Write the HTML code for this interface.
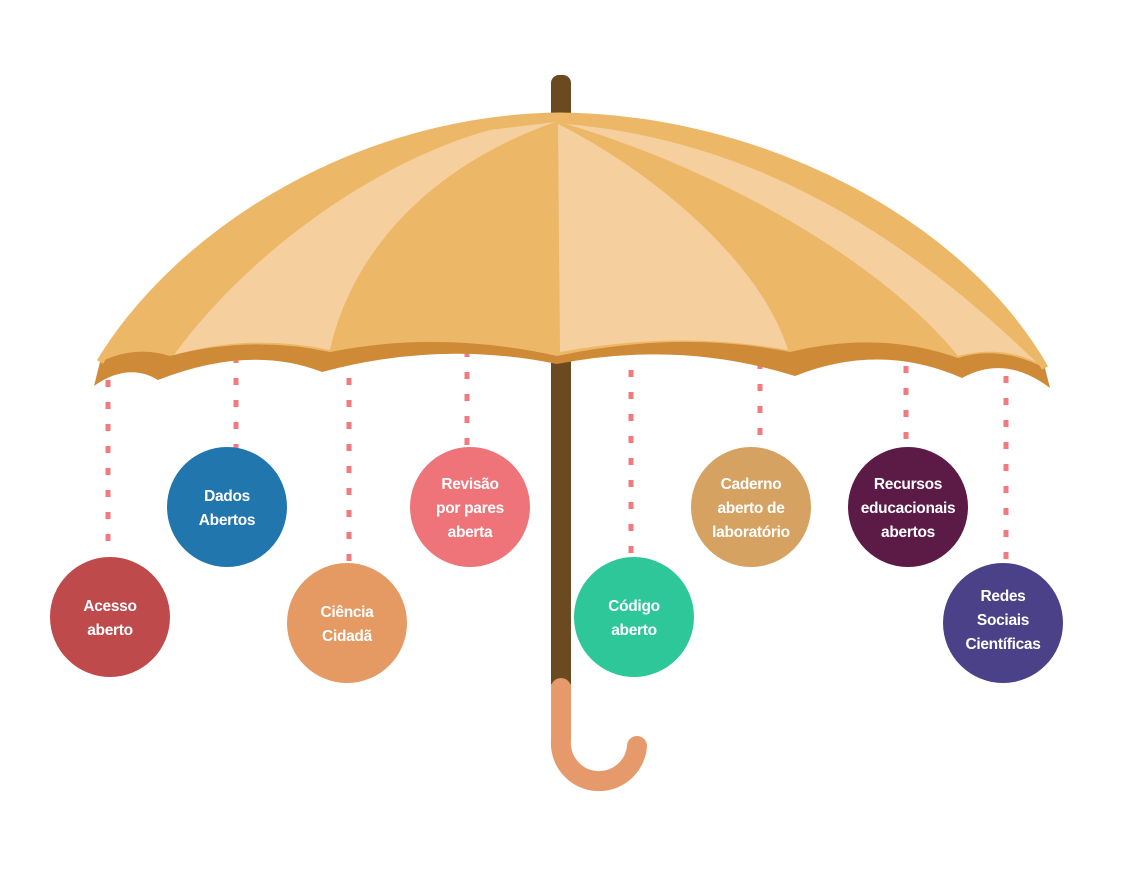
<!DOCTYPE html>
<html><head><meta charset="utf-8"><style>
html,body{margin:0;padding:0;background:#fff;}
svg{display:block}
text{font-family:"Liberation Sans",sans-serif;font-weight:bold;font-size:15.5px;fill:#fff;text-anchor:middle;letter-spacing:-0.3px}
</style></head><body>
<svg width="1148" height="886" viewBox="0 0 1148 886" xmlns="http://www.w3.org/2000/svg">
<g stroke="#f07a7e" stroke-width="5" stroke-dasharray="7 15">
<line x1="108" y1="380" x2="108" y2="556"/>
<line x1="236" y1="356" x2="236" y2="448"/>
<line x1="349" y1="356" x2="349" y2="562"/>
<line x1="467" y1="350" x2="467" y2="446"/>
<line x1="631" y1="370" x2="631" y2="556"/>
<line x1="760" y1="362" x2="760" y2="448"/>
<line x1="906" y1="366" x2="906" y2="446"/>
<line x1="1006" y1="376" x2="1006" y2="562"/>
</g>
<rect x="551" y="75" width="20" height="620" rx="8" fill="#6b4a22"/>
<path d="M561 688 L561 740 A37 37 0 0 0 637 746" fill="none" stroke="#e6996a" stroke-width="20" stroke-linecap="round"/>
<rect x="551" y="684" width="20" height="14" fill="#e6996a"/>
<path d="M100 362 C180 230 360 118 560 116 C760 118 960 220 1045 368 L1050 388 Q1005 354 962 378 Q880 342 795 376 Q680 340 557 364 Q440 340 322 372 Q250 344 158 380 Q128 362 94 386 Z" fill="#cf8a37"/>
<path d="M100 362 C180 230 360 118 560 116 C760 118 960 220 1045 368 Q1000 345 958 358 Q880 330 790 352 Q680 330 557 356 Q440 330 330 352 Q250 335 170 356 Q135 345 100 362 Z" fill="#ecb867"/>
<path d="M174 355 C250 250 380 160 490 130 L555 122 C420 170 350 260 330 350 Q250 333 174 355 Z" fill="#f5cf9e"/>
<path d="M558 124 C650 170 760 260 788 350 Q680 330 560 352 Z" fill="#f5cf9e"/>
<path d="M566 124 C750 140 900 230 1036 362 Q1000 345 958 356 C880 260 720 170 566 124 Z" fill="#f5cf9e"/>
<path d="M100 362 C180 230 360 118 560 116 C760 118 960 220 1045 368" fill="none" stroke="#ecb867" stroke-width="7"/>
<circle cx="110" cy="617" r="60" fill="#bf4a4b"/>
<circle cx="227" cy="507" r="60" fill="#2176ae"/>
<circle cx="347" cy="623" r="60" fill="#e59a63"/>
<circle cx="470" cy="507" r="60" fill="#ef7479"/>
<circle cx="634" cy="617" r="60" fill="#2dc79a"/>
<circle cx="751" cy="507" r="60" fill="#d6a261"/>
<circle cx="908" cy="507" r="60" fill="#5c1a47"/>
<circle cx="1003" cy="623" r="60" fill="#4b4189"/>
<text x="110" y="611">Acesso</text><text x="110" y="635">aberto</text>
<text x="227" y="501">Dados</text><text x="227" y="525">Abertos</text>
<text x="347" y="617">Ciência</text><text x="347" y="641">Cidadã</text>
<text x="470" y="489">Revisão</text><text x="470" y="513">por pares</text><text x="470" y="537">aberta</text>
<text x="634" y="611">Código</text><text x="634" y="635">aberto</text>
<text x="751" y="489">Caderno</text><text x="751" y="513">aberto de</text><text x="751" y="537">laboratório</text>
<text x="908" y="489">Recursos</text><text x="908" y="513">educacionais</text><text x="908" y="537">abertos</text>
<text x="1003" y="601">Redes</text><text x="1003" y="625">Sociais</text><text x="1003" y="649">Científicas</text>
</svg>
</body></html>
